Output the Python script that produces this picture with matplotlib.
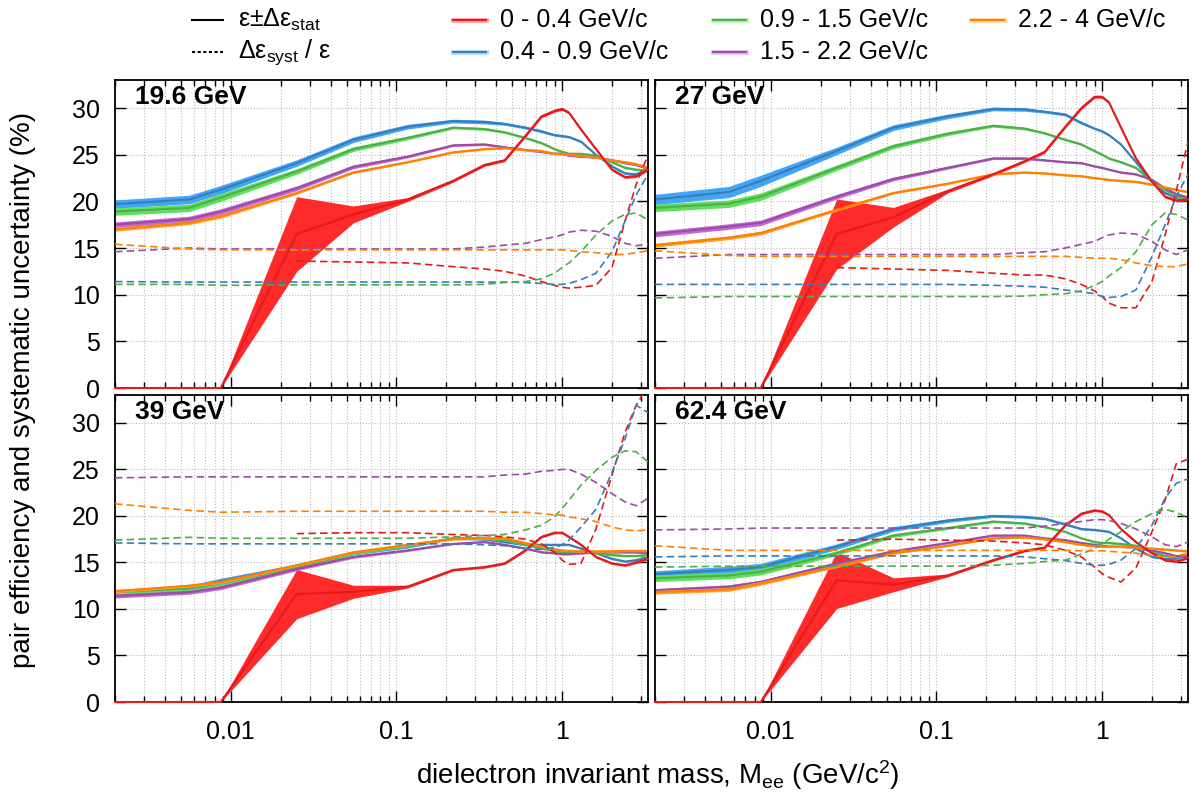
import numpy as np
import matplotlib
matplotlib.use("Agg")
import matplotlib.pyplot as plt
from matplotlib.lines import Line2D
from matplotlib.ticker import FixedLocator, LogLocator, NullLocator, FuncFormatter

plt.rcParams['font.family'] = ['Liberation Sans', 'DejaVu Sans']
plt.rcParams['mathtext.fontset'] = 'custom'
plt.rcParams['mathtext.rm'] = 'Liberation Sans'
plt.rcParams['mathtext.it'] = 'Liberation Sans:italic'

# mass points (GeV/c^2)
mass = [0.002, 0.0056, 0.0087, 0.025, 0.055, 0.117, 0.22, 0.34, 0.45, 0.6,
        0.75, 0.9, 1.0, 1.1, 1.3, 1.6, 2.0, 2.4, 2.8, 3.3]

energies = ["19.6 GeV", "27 GeV", "39 GeV", "62.4 GeV"]
pt_bins = ["0 - 0.4 GeV/c", "0.4 - 0.9 GeV/c", "0.9 - 1.5 GeV/c",
           "1.5 - 2.2 GeV/c", "2.2 - 4 GeV/c"]
line_colors = ["#e41a1c", "#377eb8", "#4daf4a", "#984ea3", "#ff7f00"]
band_colors = ["#ff2a2a", "#42a5f5", "#5ee05e", "#c466d8", "#ffa030"]

# efficiency (%), order: red, blue, green, purple, orange
eff_19 = [
    [0, 0, 0, 16.5, 18.6, 20.2, 22.2, 23.9, 24.4, 27.0, 29.1, 29.7, 29.9, 29.5, 27.7, 25.6, 23.4, 22.6, 22.7, 23.4],
    [19.7, 20.2, 21.25, 24.1, 26.6, 28.0, 28.6, 28.5, 28.3, 27.9, 27.5, 27.1, 27.0, 26.9, 26.4, 25.0, 23.75, 23.0, 22.9, 23.4],
    [18.9, 19.3, 20.4, 23.2, 25.6, 26.8, 27.9, 27.75, 27.4, 26.8, 26.25, 25.6, 25.3, 25.1, 25.1, 24.9, 24.2, 23.6, 23.4, 23.3],
    [17.5, 18.1, 18.9, 21.4, 23.7, 24.8, 26.0, 26.1, 25.8, 25.5, 25.3, 25.1, 25.1, 24.9, 24.8, 24.7, 24.4, 24.1, 23.9, 23.5],
    [17.0, 17.7, 18.4, 20.9, 23.1, 24.2, 25.25, 25.6, 25.7, 25.5, 25.4, 25.1, 25.1, 25.0, 24.9, 24.7, 24.4, 24.2, 24.0, 23.6],
]
eff_27 = [
    [0, 0, 0, 16.5, 18.3, 21.1, 22.9, 24.3, 25.3, 28.0, 30.0, 31.2, 31.2, 30.6, 27.9, 24.6, 22.1, 20.5, 20.1, 20.2],
    [20.2, 21.0, 22.2, 25.4, 27.9, 29.1, 29.9, 29.85, 29.6, 29.3, 28.4, 27.8, 27.5, 27.1, 26.1, 24.2, 22.1, 20.9, 20.4, 20.35],
    [19.3, 19.75, 20.5, 23.6, 25.9, 27.25, 28.1, 27.8, 27.3, 26.6, 26.1, 25.4, 25.0, 24.6, 24.2, 23.6, 22.1, 21.25, 20.5, 20.35],
    [16.5, 17.3, 17.7, 20.5, 22.4, 23.6, 24.6, 24.6, 24.4, 24.2, 24.1, 23.75, 23.6, 23.4, 23.1, 22.9, 22.3, 21.4, 20.8, 20.4],
    [15.3, 16.1, 16.6, 19.1, 20.9, 21.9, 22.9, 23.1, 23.0, 22.8, 22.7, 22.5, 22.4, 22.3, 22.2, 22.1, 21.8, 21.5, 21.25, 21.0],
]
eff_39 = [
    [0, 0, 0, 11.6, 11.85, 12.4, 14.2, 14.5, 14.9, 16.3, 17.75, 18.2, 18.2, 17.75, 16.9, 15.6, 14.9, 14.7, 15.0, 15.4],
    [11.85, 12.3, 13.0, 14.6, 16.0, 16.7, 17.6, 17.5, 17.2, 16.9, 16.9, 16.9, 16.9, 16.9, 16.5, 16.0, 15.4, 15.1, 15.25, 15.6],
    [11.8, 12.2, 12.75, 14.5, 16.0, 16.8, 17.6, 17.6, 17.4, 16.9, 16.5, 16.25, 16.1, 16.1, 16.1, 16.0, 15.8, 15.7, 15.7, 15.8],
    [11.4, 11.8, 12.3, 14.3, 15.6, 16.3, 17.0, 17.2, 16.9, 16.5, 16.1, 16.0, 15.9, 15.9, 16.0, 16.1, 16.1, 16.1, 16.1, 16.0],
    [11.9, 12.5, 12.9, 14.7, 16.1, 16.9, 17.5, 17.6, 17.6, 17.1, 16.7, 16.4, 16.3, 16.25, 16.2, 16.2, 16.2, 16.25, 16.25, 16.25],
]
eff_62 = [
    [0, 0, 0, 13.1, 12.6, 13.6, 15.25, 16.25, 16.6, 19.0, 20.25, 20.6, 20.5, 20.1, 18.6, 17.2, 16.0, 15.25, 15.1, 15.5],
    [13.75, 14.2, 14.5, 16.7, 18.6, 19.5, 20.0, 19.9, 19.7, 19.1, 18.6, 18.5, 18.4, 18.3, 17.6, 16.5, 15.6, 15.4, 15.4, 15.8],
    [13.3, 13.6, 14.0, 16.0, 17.9, 18.7, 19.4, 19.2, 18.8, 18.3, 17.6, 17.2, 17.1, 17.1, 17.0, 16.8, 16.1, 15.7, 15.6, 15.7],
    [12.0, 12.4, 12.9, 14.9, 16.2, 17.1, 17.9, 17.9, 17.6, 17.4, 17.1, 16.9, 16.8, 16.7, 16.7, 16.6, 16.3, 16.0, 15.7, 15.6],
    [11.8, 12.1, 12.75, 14.6, 16.0, 16.8, 17.6, 17.7, 17.5, 17.2, 16.9, 16.75, 16.7, 16.7, 16.7, 16.6, 16.5, 16.4, 16.3, 16.2],
]

# statistical uncertainty on efficiency (%)
stat_19 = [
    [0, 0, 0, 4.0, 0.9, 0.2, 0.15, 0.15, 0.15, 0.15, 0.15, 0.15, 0.15, 0.15, 0.15, 0.15, 0.15, 0.15, 0.15, 0.15],
    [0.45, 0.45, 0.45, 0.35, 0.3, 0.25, 0.2, 0.2, 0.15, 0.15, 0.15, 0.12, 0.12, 0.12, 0.12, 0.12, 0.12, 0.12, 0.12, 0.12],
    [0.4, 0.4, 0.4, 0.3, 0.25, 0.2, 0.15, 0.15, 0.12, 0.12, 0.12, 0.12, 0.12, 0.12, 0.12, 0.12, 0.12, 0.12, 0.12, 0.12],
    [0.3, 0.3, 0.3, 0.25, 0.2, 0.15, 0.12, 0.12, 0.1, 0.1, 0.1, 0.1, 0.1, 0.1, 0.1, 0.1, 0.1, 0.1, 0.1, 0.1],
    [0.2, 0.2, 0.2, 0.15, 0.12, 0.1, 0.1, 0.1, 0.1, 0.1, 0.1, 0.1, 0.1, 0.1, 0.1, 0.1, 0.1, 0.1, 0.1, 0.1],
]
stat_27 = [
    [0, 0, 0, 3.75, 1.05, 0.2, 0.15, 0.15, 0.15, 0.15, 0.15, 0.15, 0.15, 0.15, 0.15, 0.15, 0.15, 0.15, 0.15, 0.15],
    [0.55, 0.6, 0.6, 0.4, 0.3, 0.25, 0.2, 0.2, 0.15, 0.15, 0.15, 0.12, 0.12, 0.12, 0.12, 0.12, 0.12, 0.12, 0.12, 0.12],
    [0.4, 0.4, 0.4, 0.3, 0.25, 0.2, 0.15, 0.15, 0.12, 0.12, 0.12, 0.12, 0.12, 0.12, 0.12, 0.12, 0.12, 0.12, 0.12, 0.12],
    [0.3, 0.3, 0.3, 0.25, 0.2, 0.15, 0.12, 0.12, 0.1, 0.1, 0.1, 0.1, 0.1, 0.1, 0.1, 0.1, 0.1, 0.1, 0.1, 0.1],
    [0.2, 0.2, 0.2, 0.15, 0.12, 0.1, 0.1, 0.1, 0.1, 0.1, 0.1, 0.1, 0.1, 0.1, 0.1, 0.1, 0.1, 0.1, 0.1, 0.1],
]
stat_39 = [
    [0, 0, 0, 2.65, 0.7, 0.15, 0.12, 0.12, 0.12, 0.12, 0.12, 0.12, 0.12, 0.12, 0.12, 0.12, 0.12, 0.12, 0.12, 0.12],
    [0.25, 0.25, 0.3, 0.25, 0.2, 0.15, 0.12, 0.12, 0.1, 0.1, 0.1, 0.1, 0.1, 0.1, 0.1, 0.1, 0.1, 0.1, 0.1, 0.1],
    [0.22, 0.22, 0.25, 0.2, 0.15, 0.12, 0.1, 0.1, 0.1, 0.1, 0.1, 0.1, 0.1, 0.1, 0.1, 0.1, 0.1, 0.1, 0.1, 0.1],
    [0.22, 0.22, 0.22, 0.18, 0.15, 0.12, 0.1, 0.1, 0.1, 0.1, 0.1, 0.1, 0.1, 0.1, 0.1, 0.1, 0.1, 0.1, 0.1, 0.1],
    [0.15, 0.15, 0.15, 0.12, 0.1, 0.1, 0.1, 0.1, 0.1, 0.1, 0.1, 0.1, 0.1, 0.1, 0.1, 0.1, 0.1, 0.1, 0.1, 0.1],
]
stat_62 = [
    [0, 0, 0, 3.05, 0.75, 0.15, 0.12, 0.12, 0.12, 0.12, 0.12, 0.12, 0.12, 0.12, 0.12, 0.12, 0.12, 0.12, 0.12, 0.12],
    [0.35, 0.4, 0.4, 0.3, 0.25, 0.2, 0.15, 0.15, 0.12, 0.12, 0.12, 0.1, 0.1, 0.1, 0.1, 0.1, 0.1, 0.1, 0.1, 0.1],
    [0.35, 0.35, 0.35, 0.25, 0.2, 0.15, 0.12, 0.12, 0.1, 0.1, 0.1, 0.1, 0.1, 0.1, 0.1, 0.1, 0.1, 0.1, 0.1, 0.1],
    [0.2, 0.2, 0.2, 0.15, 0.12, 0.1, 0.1, 0.1, 0.1, 0.1, 0.1, 0.1, 0.1, 0.1, 0.1, 0.1, 0.1, 0.1, 0.1, 0.1],
    [0.2, 0.2, 0.2, 0.15, 0.12, 0.1, 0.1, 0.1, 0.1, 0.1, 0.1, 0.1, 0.1, 0.1, 0.1, 0.1, 0.1, 0.1, 0.1, 0.1],
]

# relative systematic uncertainty (%)
syst_19 = [
    [None, None, None, 13.6, 13.5, 13.4, 13.0, 12.75, 12.5, 12.0, 11.4, 11.0, 10.8, 10.7, 10.8, 11.0, 12.9, 17.9, 21.8, 25.0],
    [11.4, 11.35, 11.35, 11.35, 11.35, 11.35, 11.35, 11.35, 11.35, 11.3, 11.2, 11.1, 11.1, 11.2, 11.6, 12.3, 14.6, 17.9, 20.7, 22.9],
    [11.1, 11.1, 11.0, 11.05, 11.05, 11.05, 11.05, 11.1, 11.3, 11.4, 11.7, 12.3, 12.9, 13.4, 14.6, 16.4, 17.9, 18.6, 18.75, 18.0],
    [14.6, 15.0, 14.9, 14.9, 14.9, 14.9, 14.9, 15.1, 15.3, 15.5, 15.9, 16.2, 16.4, 16.7, 16.9, 16.8, 16.25, 15.5, 15.25, 15.4],
    [15.4, 14.9, 14.8, 14.8, 14.8, 14.8, 14.8, 14.8, 14.8, 14.8, 14.8, 14.8, 14.8, 14.75, 14.6, 14.5, 14.3, 14.3, 14.5, 14.7],
]
syst_27 = [
    [None, None, None, 12.9, 12.75, 12.6, 12.3, 12.1, 12.1, 11.7, 11.1, 10.4, 9.8, 9.1, 8.6, 8.6, 11.4, 16.4, 21.1, 26.4],
    [11.1, 11.1, 11.1, 11.1, 11.1, 11.1, 11.0, 10.9, 10.8, 10.5, 10.3, 10.1, 9.8, 9.7, 9.8, 10.5, 14.1, 17.5, 20.5, 22.9],
    [9.65, 9.8, 9.8, 9.8, 9.8, 9.8, 9.8, 9.85, 10.0, 10.1, 10.4, 11.0, 11.4, 12.0, 12.9, 14.6, 17.5, 18.75, 18.6, 18.0],
    [13.9, 14.3, 14.3, 14.3, 14.3, 14.3, 14.3, 14.5, 14.6, 15.0, 15.4, 15.7, 16.1, 16.4, 16.6, 16.5, 15.7, 14.8, 14.3, 14.8],
    [14.7, 14.2, 14.1, 14.1, 14.1, 14.1, 14.1, 14.1, 14.1, 14.1, 14.0, 13.9, 13.9, 13.9, 13.75, 13.4, 13.1, 13.0, 13.0, 13.3],
]
syst_39 = [
    [None, None, None, 18.1, 18.2, 18.2, 18.0, 17.9, 17.75, 17.5, 17.0, 16.1, 15.25, 14.8, 14.9, 18.6, 24.4, 29.0, 31.9, 34.0],
    [17.1, 17.0, 17.0, 17.0, 17.0, 17.0, 17.0, 16.9, 16.8, 16.5, 16.4, 16.6, 16.9, 17.4, 18.8, 20.7, 24.7, 28.3, 31.9, 31.1],
    [17.4, 17.7, 17.6, 17.6, 17.6, 17.6, 17.75, 17.9, 18.0, 18.5, 19.0, 19.9, 20.8, 21.7, 23.3, 24.9, 26.3, 27.0, 26.9, 25.8],
    [24.1, 24.2, 24.2, 24.2, 24.2, 24.2, 24.2, 24.2, 24.4, 24.5, 24.8, 24.9, 25.0, 25.0, 24.5, 23.6, 22.4, 21.5, 21.1, 21.9],
    [21.3, 20.6, 20.4, 20.5, 20.5, 20.5, 20.5, 20.5, 20.4, 20.4, 20.25, 20.1, 20.1, 19.9, 19.7, 19.4, 18.8, 18.5, 18.4, 18.5],
]
syst_62 = [
    [None, None, None, 17.4, 17.5, 17.4, 17.3, 17.1, 16.9, 16.3, 15.6, 14.5, 13.8, 13.4, 12.9, 14.4, 18.3, 21.7, 25.6, 26.1],
    [15.6, 15.7, 15.7, 15.7, 15.7, 15.7, 15.7, 15.6, 15.4, 15.2, 14.9, 14.7, 14.7, 14.8, 15.25, 16.5, 19.0, 21.9, 23.5, 24.0],
    [14.5, 14.6, 14.6, 14.6, 14.6, 14.6, 14.7, 14.9, 15.1, 15.25, 15.9, 16.5, 17.0, 17.5, 18.3, 19.4, 20.25, 20.7, 20.4, 19.8],
    [18.5, 18.6, 18.7, 18.7, 18.7, 18.7, 18.7, 18.7, 18.9, 19.2, 19.4, 19.6, 19.6, 19.5, 19.2, 18.6, 17.75, 16.9, 16.7, 17.2],
    [16.8, 16.3, 16.3, 16.3, 16.3, 16.3, 16.3, 16.3, 16.3, 16.3, 16.25, 16.25, 16.25, 16.2, 16.1, 16.0, 15.7, 15.6, 15.7, 16.0],
]

panels = [(eff_19, stat_19, syst_19), (eff_27, stat_27, syst_27),
          (eff_39, stat_39, syst_39), (eff_62, stat_62, syst_62)]

W, H = 1192, 800
fig = plt.figure(figsize=(W / 100, H / 100), dpi=100)

# panel boxes in pixels: (left, top, width, height)
boxes = [(115, 80, 533, 308), (655, 80, 533, 308),
         (115, 395, 533, 307), (655, 395, 533, 307)]

m = np.array(mass)
for i, (eff, stat, syst) in enumerate(panels):
    l, t, w, h = boxes[i]
    ax = fig.add_axes([l / W, 1 - (t + h) / H, w / W, h / H])
    ax.set_xscale('log')
    ax.set_xlim(0.002, 3.3)
    ax.set_ylim(0, 33)

    for k in range(5):
        y = np.array(eff[k], dtype=float)
        e = np.array(stat[k], dtype=float)
        ax.fill_between(m, y - e, y + e, color=band_colors[k], lw=0, zorder=2 + k * 0.1)
        if k == 0:
            # red curve sits on the x axis at low mass, keep it over the spine
            ax.plot(m, y, color=line_colors[k], lw=1.5, zorder=2.6, clip_on=False)
        else:
            ax.plot(m, y, color=line_colors[k], lw=1.5, zorder=2.05 + k * 0.1)
    for k in range(5):
        s = np.array(syst[k], dtype=float)
        ax.plot(m, s, color=line_colors[k], lw=1.2, ls=(0, (4.5, 2.5)), zorder=3)

    ax.text(0.038, 0.945, energies[i], transform=ax.transAxes, fontsize=19,
            fontweight='bold', ha='left', va='center', zorder=5)

    ax.xaxis.set_major_locator(FixedLocator([0.01, 0.1, 1]))
    ax.xaxis.set_major_formatter(FuncFormatter(lambda v, p: '%g' % v))
    ax.xaxis.set_minor_locator(LogLocator(base=10, subs=np.arange(2, 10), numticks=20))
    ax.set_yticks([0, 5, 10, 15, 20, 25, 30])
    ax.yaxis.set_minor_locator(NullLocator())
    ax.tick_params(which='both', direction='in', top=True, right=True, width=1,
                   labelsize=18)
    ax.tick_params(which='major', length=8)
    ax.tick_params(which='minor', length=4)
    ax.tick_params(axis='y', pad=11)
    ax.tick_params(axis='x', pad=13)
    if i % 2 == 1:
        ax.tick_params(labelleft=False)
    if i < 2:
        ax.tick_params(labelbottom=False)
    ax.grid(which='major', ls=':', color='#bbbbbb', lw=0.8, zorder=0)
    ax.grid(which='minor', axis='x', ls=':', color='#bbbbbb', lw=0.8, zorder=0)
    ax.set_axisbelow(True)
    for sp in ax.spines.values():
        sp.set_linewidth(1.3)

fig.text(0.019, 0.512, 'pair efficiency and systematic uncertainty (%)',
         rotation=90, ha='center', va='center', fontsize=20)
fig.text(0.552, 0.031, r'dielectron invariant mass, M$_{\mathrm{ee}}$ (GeV/c$^{2}$)',
         ha='center', va='center', fontsize=20)

# legend drawn by hand in figure pixels
def leg_line(x0, x1, y, **kw):
    fig.add_artist(Line2D([x0 / W, x1 / W], [1 - y / H, 1 - y / H],
                          transform=fig.transFigure, **kw))

leg_line(192, 223, 20, color='black', lw=1.5)
fig.text(238 / W, 1 - 20 / H, r'ε±Δε$_{\mathrm{stat}}$', fontsize=18, va='center')
leg_line(192, 223, 52, color='black', lw=1.5, ls=(0, (1.5, 1.2)))
fig.text(238 / W, 1 - 52 / H, r'Δε$_{\mathrm{syst}}$ / ε', fontsize=18, va='center')

leg_pos = [(453, 20), (453, 52), (713, 20), (713, 52), (971, 20)]
for k in range(5):
    x0, y0 = leg_pos[k]
    leg_line(x0, x0 + 33, y0, color=band_colors[k], lw=3.5, alpha=0.4)
    leg_line(x0, x0 + 33, y0, color=line_colors[k], lw=1.5)
    fig.text((x0 + 47) / W, 1 - y0 / H, pt_bins[k], fontsize=18, va='center')

fig.savefig('out.png', dpi=100)
